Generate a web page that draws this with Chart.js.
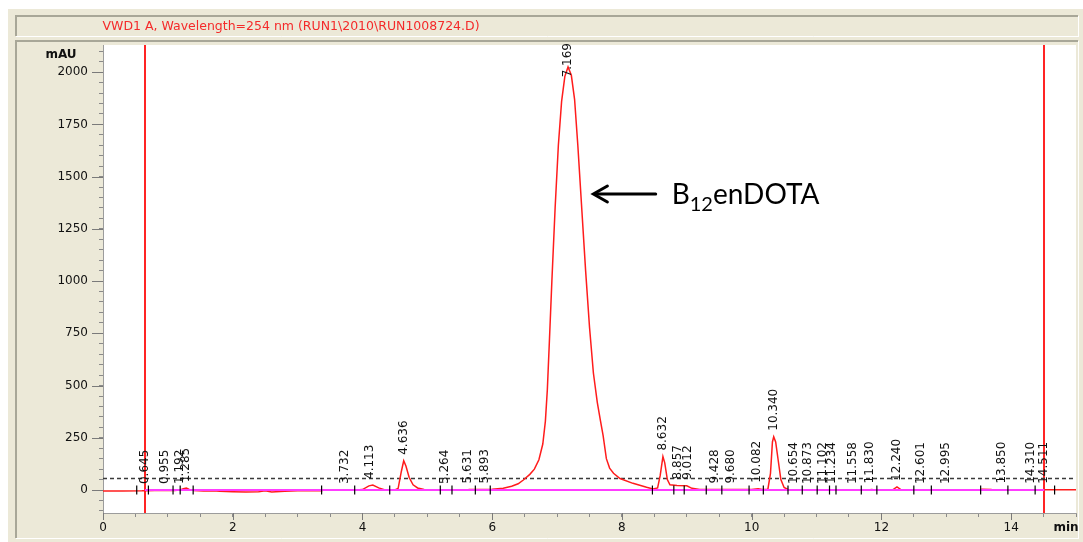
<!DOCTYPE html>
<html>
<head>
<meta charset="utf-8">
<script src="https://cdn.jsdelivr.net/npm/chart.js@4.4.1/dist/chart.umd.min.js"></script>
<style>
  html, body { margin: 0; padding: 0; background: #fff; }
</style>
</head>
<body>
<canvas id="chrom" width="1083" height="542"></canvas>
<script>
// signal trace (time in min, signal in mAU)
var traceTimes = [0.00, 0.30, 0.60, 0.645, 0.80, 0.95, 1.10, 1.19, 1.24, 1.285, 1.33, 1.40, 1.55, 1.70, 1.80, 2.00, 2.20, 2.40, 2.50, 2.60, 2.80, 3.00, 3.37, 3.40, 3.90, 4.00, 4.10, 4.16, 4.25, 4.35, 4.50, 4.55, 4.60, 4.636, 4.67, 4.72, 4.78, 4.85, 4.95, 5.10, 5.60, 5.65, 5.90, 6.00, 6.17, 6.30, 6.40, 6.48, 6.58, 6.65, 6.72, 6.78, 6.82, 6.85, 6.88, 6.92, 6.97, 7.02, 7.07, 7.12, 7.169, 7.22, 7.27, 7.32, 7.38, 7.44, 7.50, 7.56, 7.62, 7.67, 7.71, 7.76, 7.81, 7.87, 7.97, 8.17, 8.38, 8.48, 8.55, 8.59, 8.632, 8.66, 8.70, 8.74, 8.85, 9.00, 9.08, 9.20, 9.40, 10.00, 10.10, 10.16, 10.25, 10.29, 10.32, 10.34, 10.37, 10.41, 10.45, 10.50, 10.56, 11.00, 11.80, 11.85, 11.90, 12.18, 12.24, 12.30, 12.40, 13.50, 13.55, 13.70, 14.00, 15.00]
var traceValues = [-5, -5, -4, -3, -2, -1, -2, 0, 6, 9, 3, -2, -5, -3, -6, -8, -9, -8, -4, -9, -6, -4, -3, 0, 0, 2, 20, 24, 10, 0, 0, 8, 90, 140, 115, 60, 25, 10, 3, 0, 0, 3, 3, 4, 8, 18, 30, 48, 75, 100, 145, 220, 330, 480, 700, 1000, 1350, 1650, 1860, 1980, 2025, 1985, 1870, 1650, 1350, 1050, 780, 560, 420, 330, 260, 150, 105, 80, 55, 32, 13, 5, 10, 70, 160, 130, 50, 25, 22, 20, 8, 3, 2, 2, 6, 3, 4, 80, 230, 255, 230, 140, 50, 12, 3, 0, 0, 3, 0, 2, 15, 2, 0, 0, 4, 2, 1, 1]

// integrated peaks: retention time and signal where its label sits
var peakTimes = [0.645, 0.955, 1.192, 1.285, 3.732, 4.113, 4.636, 5.264, 5.631, 5.893, 7.169, 8.632, 8.857, 9.012, 9.428, 9.680, 10.082, 10.340, 10.654, 10.873, 11.102, 11.234, 11.558, 11.830, 12.240, 12.601, 12.995, 13.850, 14.310, 14.511]
var peakApex = [0, 0, 0, 9, 0, 24, 140, 0, 3, 3, 2025, 160, 22, 20, 2, 2, 6, 255, 0, 0, 0, 0, 0, 3, 15, 0, 0, 2, 1, 1]

// peak start / end event marks on the baseline
var eventTimes = [0.52, 0.70, 1.08, 1.19, 1.39, 3.37, 3.88, 4.42, 5.20, 5.38, 5.74, 5.97, 8.47, 8.80, 8.96, 9.30, 9.54, 9.96, 10.18, 10.56, 10.78, 11.01, 11.20, 11.30, 11.69, 11.93, 12.50, 12.77, 13.53, 13.95, 14.37, 14.67]

var markerTimes = [0.645, 14.511]
var baselineSpan = [0.645, 14.511]
var thresholdLevel = 55

var xTickLabels = [0, 2, 4, 6, 8, 10, 12, 14]
var yTickLabels = [0, 250, 500, 750, 1000, 1250, 1500, 1750, 2000]

var titleText = 'VWD1 A, Wavelength=254 nm (RUN1\\2010\\RUN1008724.D)'
var compoundName = ['B', '12', 'enDOTA']
var arrowFrom = { x: 8.52, y: 1417 }
var arrowTo = { x: 7.56, y: 1417 }

var beige = '#ece9d8'
var sysFont = '"DejaVu Sans", "Liberation Sans", sans-serif'

function line(ctx, x1, y1, x2, y2) {
    ctx.beginPath()
    ctx.moveTo(x1, y1)
    ctx.lineTo(x2, y2)
    ctx.stroke()
}

var framePlugin = {
    id: 'frame',
    beforeDraw(chart) {
        let ctx = chart.ctx
        let a = chart.chartArea
        ctx.save()
        ctx.fillStyle = '#ffffff'
        ctx.fillRect(0, 0, chart.width, chart.height)
        ctx.fillStyle = beige
        ctx.fillRect(8, 9, chart.width - 8, chart.height - 9)

        // title box
        ctx.lineWidth = 2
        ctx.strokeStyle = '#a8a798'
        line(ctx, 16, 36, 16, 16)
        line(ctx, 15, 16, 1078, 16)
        ctx.lineWidth = 1
        ctx.strokeStyle = '#ffffff'
        line(ctx, 16, 36.5, 1079, 36.5)
        line(ctx, 1078.5, 16, 1078.5, 37)

        // plot group box
        ctx.lineWidth = 2
        ctx.strokeStyle = '#a8a798'
        line(ctx, 16, 538, 16, 41)
        line(ctx, 15, 41, 1078, 41)
        ctx.lineWidth = 1
        ctx.strokeStyle = '#ffffff'
        line(ctx, 16, 538.5, 1079, 538.5)
        line(ctx, 1078.5, 41, 1078.5, 539)

        ctx.fillStyle = '#ffffff'
        ctx.fillRect(a.left, a.top, a.right - a.left, a.bottom - a.top)

        ctx.fillStyle = '#f42a2a'
        ctx.font = '12.5px ' + sysFont
        ctx.textAlign = 'center'
        ctx.textBaseline = 'middle'
        ctx.fillText(titleText, 291, 26.5)
        ctx.restore()
    }
}

var markPlugin = {
    id: 'marks',
    beforeDatasetsDraw(chart) {
        let ctx = chart.ctx
        let a = chart.chartArea
        let xs = chart.scales.x
        ctx.save()
        ctx.strokeStyle = '#ff2424'
        ctx.lineWidth = 2
        markerTimes.forEach(function (t) {
            let px = Math.round(xs.getPixelForValue(t))
            line(ctx, px, a.top, px, a.bottom)
        })
        ctx.restore()
    },
    afterDatasetsDraw(chart) {
        let ctx = chart.ctx
        let a = chart.chartArea
        let xs = chart.scales.x
        let ys = chart.scales.y
        ctx.save()
        // peak labels
        ctx.font = '12px ' + sysFont
        ctx.fillStyle = '#111'
        ctx.textAlign = 'left'
        ctx.textBaseline = 'middle'
        peakTimes.forEach(function (t, i) {
            let label = t.toFixed(3)
            let w = ctx.measureText(label).width
            let px = xs.getPixelForValue(t)
            let bottom = ys.getPixelForValue(peakApex[i]) - 6
            bottom = Math.max(bottom, a.top + w - 2)
            ctx.save()
            ctx.translate(px, bottom)
            ctx.rotate(-Math.PI / 2)
            ctx.fillText(label, 0, 0)
            ctx.restore()
        })

        // annotation arrow
        let x1 = xs.getPixelForValue(arrowFrom.x)
        let x2 = xs.getPixelForValue(arrowTo.x)
        let y = Math.round(ys.getPixelForValue(arrowTo.y))
        ctx.strokeStyle = '#000'
        ctx.lineWidth = 3
        ctx.lineCap = 'round'
        line(ctx, x1, y, x2 + 2, y)
        ctx.beginPath()
        ctx.moveTo(x2 + 14, y - 8)
        ctx.lineTo(x2, y)
        ctx.lineTo(x2 + 14, y + 8)
        ctx.stroke()

        // compound name with subscript
        let tx = x1 + 16
        let base = y + 10
        ctx.fillStyle = '#000'
        ctx.textAlign = 'left'
        ctx.textBaseline = 'alphabetic'
        ctx.font = '28px Lato, "Open Sans", sans-serif'
        ctx.fillText(compoundName[0], tx, base)
        tx += ctx.measureText(compoundName[0]).width
        ctx.font = '20px Lato, "Open Sans", sans-serif'
        ctx.fillText(compoundName[1], tx, base + 7)
        tx += ctx.measureText(compoundName[1]).width
        ctx.font = '28px Lato, "Open Sans", sans-serif'
        ctx.fillText(compoundName[2], tx, base)
        ctx.restore()
    },
    afterDraw(chart) {
        let ctx = chart.ctx
        let a = chart.chartArea
        let xs = chart.scales.x
        let ys = chart.scales.y
        ctx.save()
        ctx.strokeStyle = '#7a7a7a'
        ctx.lineWidth = 1
        xTickLabels.forEach(function (v) {
            let px = Math.round(xs.getPixelForValue(v)) + 0.5
            line(ctx, px, a.bottom, px, a.bottom + 7)
        })
        yTickLabels.forEach(function (v) {
            let py = Math.round(ys.getPixelForValue(v)) + 0.5
            line(ctx, a.left - 11, py, a.left, py)
        })
        ctx.fillStyle = '#111'
        ctx.font = 'bold 12px ' + sysFont
        ctx.textAlign = 'center'
        ctx.textBaseline = 'middle'
        ctx.fillText('mAU', 61, 55)
        ctx.fillText('min', 1066, 528)
        ctx.restore()
    }
}

function zeroPad(scale) {
    scale.paddingLeft = 0
    scale.paddingRight = 0
    scale.paddingTop = 0
    scale.paddingBottom = 0
}

var ctx = document.getElementById('chrom').getContext('2d')

var chromChart = new Chart(ctx, {
    type: 'line',
    data: {
        datasets: [{
            label: 'VWD1 A',
            data: traceTimes.map(function (t, i) { return { x: t, y: traceValues[i] } }),
            borderColor: '#ff1c1c',
            borderWidth: 1.5,
            pointRadius: 0,
            tension: 0,
            order: 2
        }, {
            label: 'baseline',
            data: baselineSpan.map(function (t) { return { x: t, y: 0 } }),
            borderColor: '#ff3cff',
            borderWidth: 2,
            pointRadius: 0,
            order: 1
        }, {
            label: 'threshold',
            data: [{ x: 0, y: thresholdLevel }, { x: 15, y: thresholdLevel }],
            borderColor: '#3a3a3a',
            borderWidth: 1.5,
            borderDash: [4, 3],
            pointRadius: 0,
            order: 3
        }, {
            label: 'events',
            data: eventTimes.map(function (t) { return { x: t, y: 0 } }),
            showLine: false,
            pointStyle: 'line',
            rotation: 90,
            pointRadius: 4.5,
            pointBorderColor: '#000',
            pointBorderWidth: 1.2,
            order: 0
        }]
    },
    options: {
        responsive: false,
        animation: false,
        devicePixelRatio: 1,
        layout: {
            padding: { left: 0, top: 45, right: 7, bottom: 0 }
        },
        plugins: {
            legend: { display: false },
            tooltip: { enabled: false },
            title: { display: false }
        },
        scales: {
            x: {
                type: 'linear',
                min: 0,
                max: 15,
                afterFit: function (scale) { scale.height = 29; zeroPad(scale) },
                border: { display: true, color: '#9c9c9c', width: 1 },
                grid: { drawOnChartArea: false, drawTicks: true, tickLength: 4, color: '#8a8a8a' },
                ticks: {
                    stepSize: 0.5,
                    autoSkip: false,
                    maxRotation: 0,
                    padding: 4,
                    color: '#111',
                    font: { family: sysFont, size: 12 },
                    callback: function (v) { return xTickLabels.includes(v) ? String(v) : '' }
                }
            },
            y: {
                type: 'linear',
                min: -110,
                max: 2130,
                afterFit: function (scale) { scale.width = 103; zeroPad(scale) },
                border: { display: true, color: '#9c9c9c', width: 1 },
                grid: { drawOnChartArea: false, drawTicks: true, tickLength: 4, color: '#8a8a8a' },
                ticks: {
                    stepSize: 50,
                    includeBounds: false,
                    autoSkip: false,
                    padding: 11,
                    color: '#111',
                    font: { family: sysFont, size: 12 },
                    callback: function (v) { return yTickLabels.includes(v) ? String(v) : '' }
                }
            }
        }
    },
    plugins: [framePlugin, markPlugin]
});
</script>
</body>
</html>
